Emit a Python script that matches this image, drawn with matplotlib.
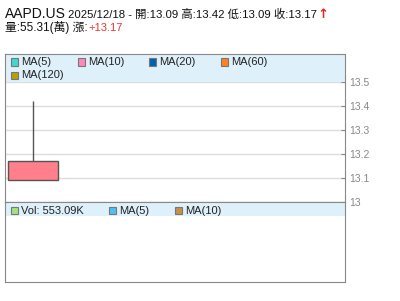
import matplotlib
matplotlib.use("Agg")
import matplotlib.pyplot as plt
from matplotlib.patches import Rectangle
from matplotlib.ticker import FuncFormatter

plt.rcParams["font.family"] = ["Liberation Sans", "Noto Sans CJK TC", "DejaVu Sans"]

# 데이터
symbol = "AAPD.US"
dates = ["2025/12/18"]
opens = [13.09]
highs = [13.42]
lows = [13.09]
closes = [13.17]
volume_label = "Vol: 553.09K"
info_line = "2025/12/18 - 開:13.09 高:13.42 低:13.09 收:13.17"
amount_line = "量:55.31(萬) 漲:"
change_text = "+13.17"
y_ticks = [13.0, 13.1, 13.2, 13.3, 13.4, 13.5]

ma_names = ["MA(5)", "MA(10)", "MA(20)", "MA(60)", "MA(120)"]
ma_colors = ["#40d8d0", "#ff88b8", "#0060b0", "#ff8020", "#b8a000"]
vol_names = [volume_label, "MA(5)", "MA(10)"]
vol_colors = ["#a8e080", "#50c0f0", "#c89048"]

W, H = 400, 301
BAND = "#def0fa"
FRAME = "#888888"


def fx(px):
    return px / W


def fy(py):
    return 1 - py / H


fig = plt.figure(figsize=(4, 3.01), dpi=100)

# 메인 차트
ax = fig.add_axes([fx(5), fy(202), fx(340), 148 / H])
ax.set_ylim(13.0, 13.0 + 148 / 240)
ax.set_xlim(-0.448, -0.448 + 340 / 62.5)
ax.set_axisbelow(True)
ax.yaxis.grid(True, color="#dddddd", lw=1)
ax.axhspan(13.5, 14.0, color=BAND, lw=0, zorder=1)

x = list(range(len(dates)))
ax.vlines(x, lows, highs, color="#555555", lw=1, zorder=2)
ax.bar(x, [c - o for o, c in zip(opens, closes)], bottom=opens, width=0.8,
       color="#ff808a", edgecolor="#555555", lw=1, zorder=3)

ax.set_xticks([])
ax.yaxis.tick_right()
ax.set_yticks(y_ticks)
ax.yaxis.set_major_formatter(FuncFormatter(lambda v, p: "%g" % round(v, 2)))
ax.tick_params(axis="y", direction="in", length=3, color=FRAME, labelcolor=FRAME,
               labelsize=7.5, pad=3)
for s in ax.spines.values():
    s.set_color(FRAME)

# 거래량 차트
vax = fig.add_axes([fx(5), fy(282), fx(340), 80 / H])
vax.set_ylim(0, 1)
vax.set_xlim(ax.get_xlim())
vax.axhspan(1 - 14 / 80, 1, color=BAND, lw=0)
vax.set_xticks([])
vax.set_yticks([])
for s in vax.spines.values():
    s.set_color(FRAME)

# 범례
def legend_item(px, py, color, label):
    fig.patches.append(Rectangle((fx(px), fy(py + 3.5)), fx(7), 7 / H,
                                 transform=fig.transFigure, facecolor=color,
                                 edgecolor="#777777", lw=0.8, zorder=5))
    fig.text(fx(px + 10), fy(py), label, fontsize=8, va="center", ha="left",
             color="#222222", zorder=6)


for name, col, (px, py) in zip(ma_names, ma_colors,
                               [(11, 62), (78, 62), (149, 62), (221, 62), (11, 75.5)]):
    legend_item(px, py, col, name)

for name, col, px in zip(vol_names, vol_colors, [11, 109, 175]):
    legend_item(px, 210.5, col, name)

# 제목
fig.text(fx(5), fy(18), symbol, fontsize=10, va="baseline", color="#111111")
fig.text(fx(68), fy(17.5), info_line, fontsize=8.2, va="baseline", color="#111111")
fig.text(fx(317), fy(18.5), "↑", fontsize=9.5, va="baseline", color="#ee2222",
         fontweight="bold", family="DejaVu Sans")
fig.text(fx(5), fy(31), amount_line, fontsize=8.5, va="baseline", color="#111111")
fig.text(fx(88), fy(31), change_text, fontsize=8, va="baseline", color="#ee3333")

fig.savefig("out.png", dpi=100)
